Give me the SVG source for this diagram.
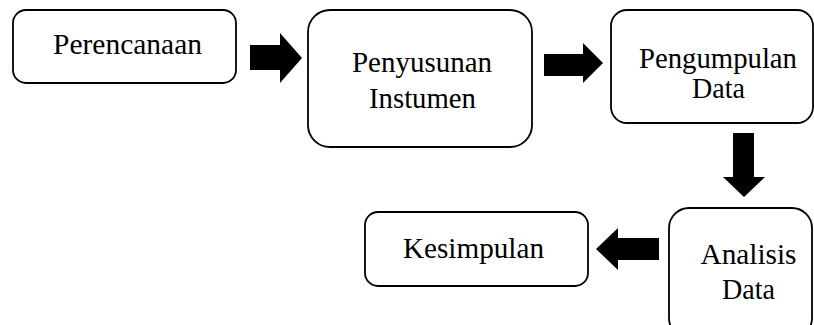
<svg xmlns="http://www.w3.org/2000/svg" width="814" height="325" viewBox="0 0 814 325">
<style>
.box{fill:#fff;stroke:#000;stroke-width:1.8}
.arr{fill:#000;stroke:none}
.t{font-family:'Times New Roman','Liberation Serif','DejaVu Serif','Noto Serif',serif;font-size:29px;fill:#000;text-anchor:middle}
</style>
<rect width="814" height="325" fill="#fff"/>
<g id="perencanaan">
<rect class="box" x="13" y="10" width="223" height="73" rx="13"/>
<text class="t" x="127.5" y="54" textLength="149" lengthAdjust="spacingAndGlyphs">Perencanaan</text>
</g>
<g id="penyusunan">
<rect class="box" x="308" y="10" width="224" height="137" rx="22"/>
<text class="t" x="422" y="72" textLength="140" lengthAdjust="spacingAndGlyphs">Penyusunan</text>
<text class="t" x="422.5" y="108" textLength="107" lengthAdjust="spacingAndGlyphs">Instumen</text>
</g>
<g id="pengumpulan">
<rect class="box" x="611" y="10" width="202" height="113" rx="16"/>
<text class="t" x="718" y="68" textLength="158" lengthAdjust="spacingAndGlyphs">Pengumpulan</text>
<text class="t" x="718.5" y="98" textLength="53" lengthAdjust="spacingAndGlyphs">Data</text>
</g>
<g id="analisis">
<rect class="box" x="669" y="208" width="143" height="130" rx="20"/>
<text class="t" x="748.5" y="264" textLength="96" lengthAdjust="spacingAndGlyphs">Analisis</text>
<text class="t" x="748.5" y="299" textLength="53" lengthAdjust="spacingAndGlyphs">Data</text>
</g>
<g id="kesimpulan">
<rect class="box" x="365" y="212" width="223" height="74" rx="13"/>
<text class="t" x="473.5" y="258" textLength="141" lengthAdjust="spacingAndGlyphs">Kesimpulan</text>
</g>
<g id="connectors">
<polygon class="arr" points="250,45 280,45 280,33 302,58 280,83 280,70 250,70"/>
<polygon class="arr" points="544,54 583,54 583,43 603,63 583,83 583,76 544,76"/>
<polygon class="arr" points="733,133 754,133 754,177 765,177 744,197 723,177 733,177"/>
<polygon class="arr" points="659,238 618,238 618,228 596,249 618,270 618,260 659,260"/>
</g>
</svg>
